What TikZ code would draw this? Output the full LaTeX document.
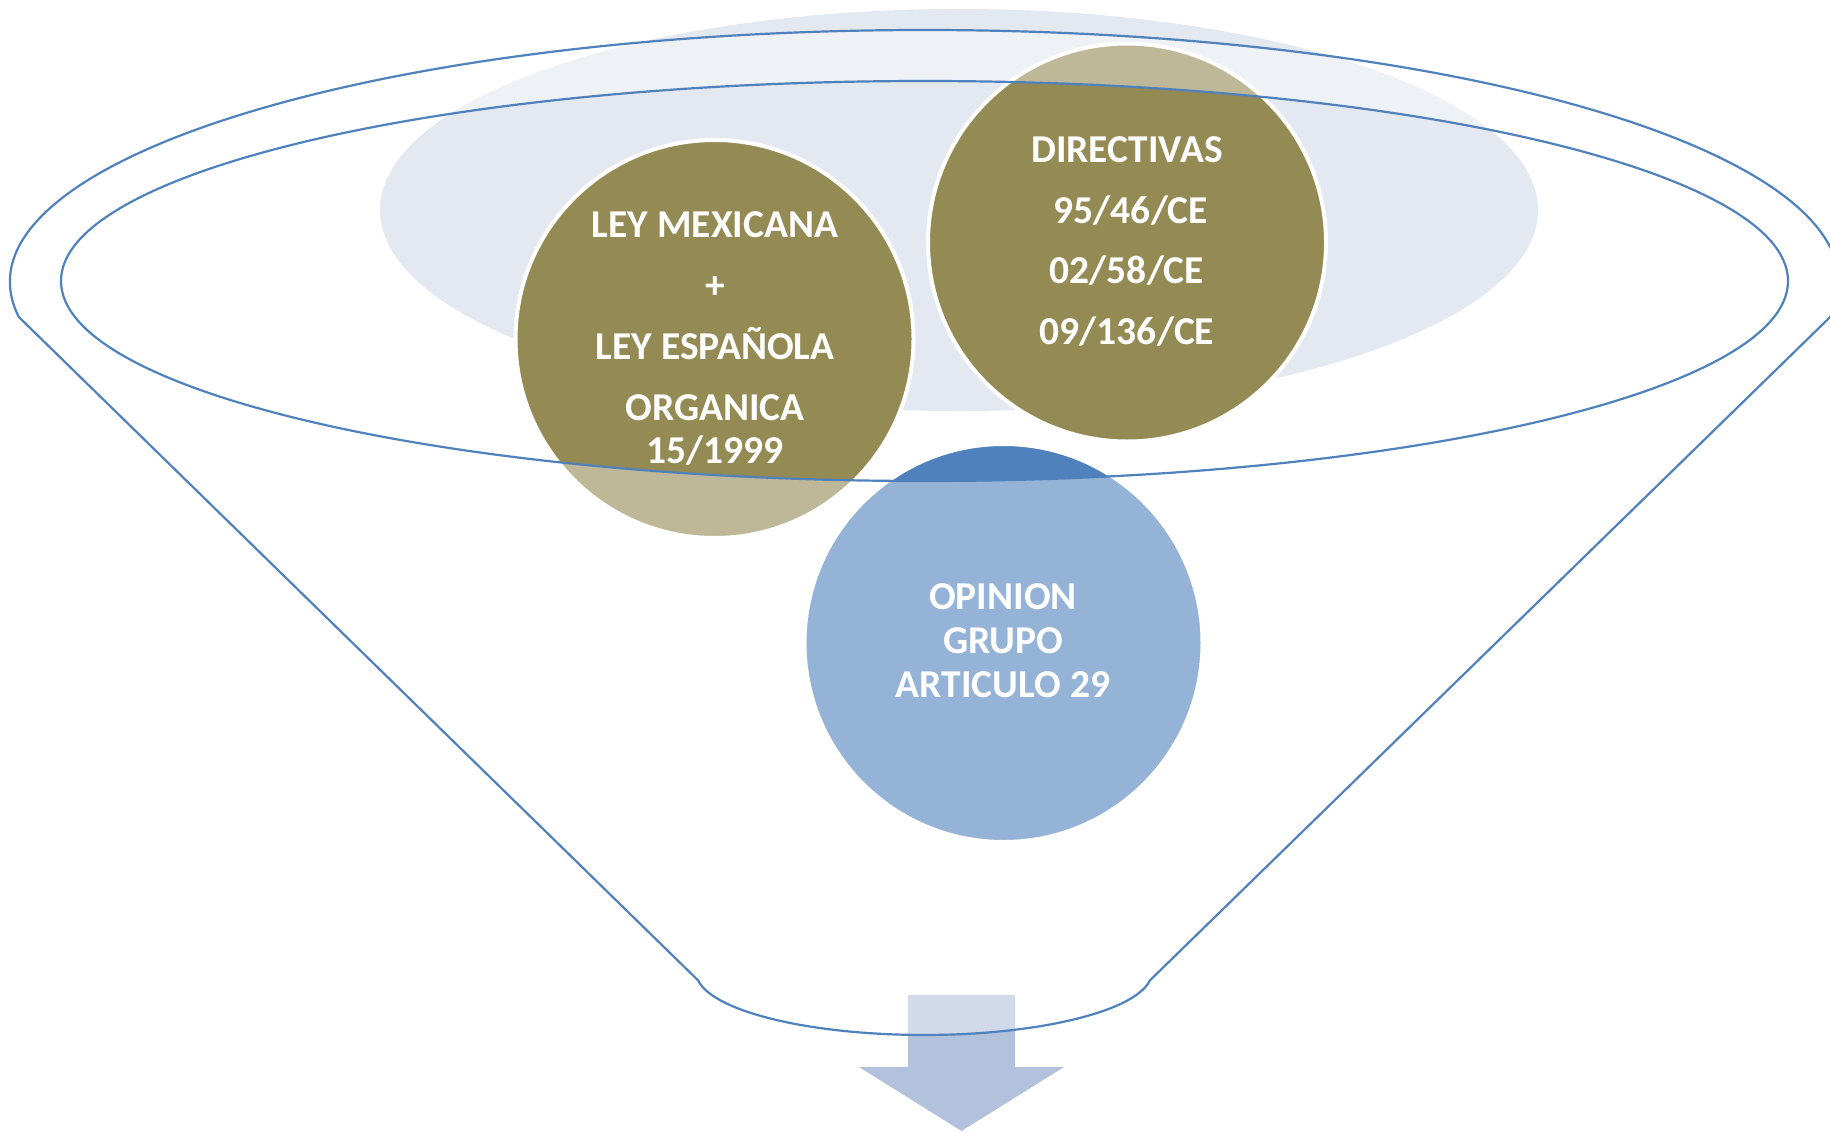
\documentclass[tikz,border=0pt]{standalone}
\usepackage{fontspec}
\setmainfont{Carlito}
\definecolor{olivec}{HTML}{948A54}
\definecolor{bluec}{HTML}{4F81BD}
\definecolor{bgell}{HTML}{E3E8F1}
\definecolor{arrowc}{HTML}{B3C2DC}
\begin{document}
\begin{tikzpicture}[x=1pt,y=-1pt,
  olivecirc/.style={circle, minimum size=398pt, inner sep=0pt, fill=olivec, draw=white, line width=4pt},
  bluecirc/.style={circle, minimum size=398pt, inner sep=0pt, fill=bluec, draw=white, line width=4pt},
  lbl/.style={anchor=base, text=white, inner sep=0pt, font=\fontsize{39.5}{46}\selectfont\bfseries},
  funnelline/.style={draw=bluec, line width=2.2pt}]
\useasboundingbox (0,0) rectangle (1830,1132);
% background light ellipse
\fill[bgell] (959,210) ellipse [x radius=579, y radius=201];
% arrow
\fill[arrowc] (908,995) -- (1015,995) -- (1015,1067) -- (1064,1067) -- (961.5,1131) -- (859,1067) -- (908,1067) -- cycle;
% circles
\node[olivecirc] (ley) at (714.5,339) {};
\node[olivecirc] (dir) at (1127,242.5) {};
\node[bluecirc] (opi) at (1003.5,643) {};
% funnel body overlay
\fill[white, fill opacity=0.4, even odd rule]
  (18.9,317.07) arc[start angle=172, end angle=368, x radius=914.5, y radius=252]
  -- (1150,980.3) arc[start angle=7.6, end angle=172.4, x radius=228, y radius=63] -- cycle
  (924.5,281) ellipse [x radius=863.5, y radius=200];
% funnel outlines
\draw[funnelline, line join=round]
  (18.9,317.07) arc[start angle=172, end angle=368, x radius=914.5, y radius=252]
  -- (1150,980.3) arc[start angle=7.6, end angle=172.4, x radius=228, y radius=63] -- cycle;
\draw[funnelline] (924.5,281) ellipse [x radius=863.5, y radius=200];
% texts
\node[lbl] (l1) at (715,237) {LEY MEXICANA};
\node[lbl] (l2) at (715,298) {+};
\node[lbl] (l3) at (715,359) {LEY ESPAÑOLA};
\node[lbl] (l4) at (715,420) {ORGANICA};
\node[lbl] (l5) at (715,463) {15/1999};
\node[lbl] (d1) at (1127,162) {DIRECTIVAS};
\node[lbl] (d2) at (1131,223) {95/46/CE};
\node[lbl] (d3) at (1127,283) {02/58/CE};
\node[lbl] (d4) at (1127,344) {09/136/CE};
\node[lbl] (o1) at (1003,609) {OPINION};
\node[lbl] (o2) at (1003,653) {GRUPO};
\node[lbl] (o3) at (1003,697) {ARTICULO 29};
\end{tikzpicture}
\end{document}
